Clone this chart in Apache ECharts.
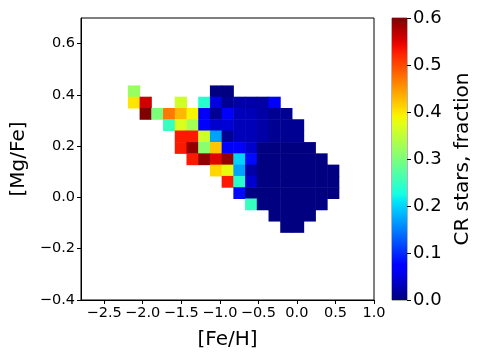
<!DOCTYPE html>
<html>
<head>
<meta charset="utf-8">
<script src="https://cdn.jsdelivr.net/npm/echarts@6/dist/echarts.min.js"></script>
<style>
  html, body { margin: 0; padding: 0; background: #fff; }
  #chart { width: 479px; height: 359px; }
</style>
</head>
<body>
<div id="chart"></div>
<script>
// bin centres of the 2D histogram
const feBins = [-2.116, -1.964, -1.812, -1.660, -1.508, -1.356, -1.204, -1.052, -0.900,
  -0.748, -0.596, -0.444, -0.292, -0.140, 0.012, 0.164, 0.316, 0.468]
const mgBins = [0.415, 0.371, 0.327, 0.283, 0.239, 0.194, 0.150, 0.106, 0.062, 0.018, -0.026, -0.070, -0.114]
const feWidth = 0.152
const mgHeight = 0.0441

// CR-star fraction, rows top to bottom, columns follow feBins
const _ = null
const fraction = [
  [0.32, _, _, _, _, _, _, 0.0, 0.0, _, _, _, _, _, _, _, _, _],
  [0.40, 0.56, _, _, 0.36, _, 0.24, 0.05, 0.01, 0.02, 0.02, 0.02, 0.07, _, _, _, _, _],
  [_, 0.60, 0.30, 0.47, 0.43, 0.39, 0.07, 0.01, 0.07, 0.03, 0.03, 0.02, 0.01, 0.01, _, _, _, _],
  [_, _, _, 0.25, 0.37, 0.33, 0.07, 0.04, 0.045, 0.03, 0.03, 0.02, 0.01, 0.01, 0.01, _, _, _],
  [_, _, _, _, 0.53, 0.53, 0.36, 0.17, 0.01, 0.03, 0.03, 0.02, 0.01, 0.01, 0.01, _, _, _],
  [_, _, _, _, 0.53, 0.59, 0.31, 0.42, 0.07, 0.07, 0.04, 0.0, 0.0, 0.0, 0.0, 0.0, _, _],
  [_, _, _, _, _, 0.53, 0.59, 0.55, 0.59, 0.20, 0.08, 0.0, 0.0, 0.0, 0.0, 0.0, 0.0, _],
  [_, _, _, _, _, _, _, 0.41, 0.38, 0.17, 0.02, 0.0, 0.0, 0.0, 0.0, 0.0, 0.0, 0.0],
  [_, _, _, _, _, _, _, _, 0.53, 0.24, 0.04, 0.0, 0.0, 0.0, 0.0, 0.0, 0.0, 0.0],
  [_, _, _, _, _, _, _, _, _, 0.08, 0.0, 0.0, 0.0, 0.0, 0.0, 0.0, 0.0, 0.0],
  [_, _, _, _, _, _, _, _, _, _, 0.25, 0.0, 0.0, 0.0, 0.0, 0.0, 0.0, _],
  [_, _, _, _, _, _, _, _, _, _, _, _, 0.0, 0.0, 0.0, 0.0, _, _],
  [_, _, _, _, _, _, _, _, _, _, _, _, _, 0.0, 0.0, _, _, _]
]

const xTicks = [-2.5, -2.0, -1.5, -1.0, -0.5, 0.0, 0.5, 1.0]
const yTicks = [-0.4, -0.2, 0.0, 0.2, 0.4, 0.6]
const cbTicks = [0.0, 0.1, 0.2, 0.3, 0.4, 0.5, 0.6]

// matplotlib jet colormap
const jetSeg = {
  r: [[0, 0], [0.35, 0], [0.66, 1], [0.89, 1], [1, 0.5]],
  g: [[0, 0], [0.125, 0], [0.375, 1], [0.64, 1], [0.91, 0], [1, 0]],
  b: [[0, 0.5], [0.11, 1], [0.34, 1], [0.65, 0], [1, 0]]
}
const seg = (pts, t) => {
  for (let i = 1; i < pts.length; i++) {
    if (t <= pts[i][0]) {
      const [t0, v0] = pts[i - 1], [t1, v1] = pts[i]
      return v0 + (v1 - v0) * (t - t0) / (t1 - t0)
    }
  }
  return pts[pts.length - 1][1]
}
const jet = t => 'rgb(' + ['r', 'g', 'b'].map(c => Math.round(seg(jetSeg[c], t) * 255)).join(',') + ')'
const jetColors = []
for (let i = 0; i <= 40; i++) jetColors.push(jet(i / 40))

const cells = []
fraction.forEach((row, j) => {
  row.forEach((v, i) => {
    if (v !== null) cells.push([feBins[i], mgBins[j], v])
  })
})

const fmt = v => v.toFixed(1).replace('-', '\u2212')
const font = 'DejaVu Sans'

const chart = echarts.init(document.getElementById('chart'))
chart.setOption({
  animation: false,
  textStyle: { fontFamily: font },
  grid: [
    { left: 81, top: 18, width: 293, height: 282, show: true, borderColor: '#000', borderWidth: 1 },
    { left: 392, top: 18, width: 15, height: 282, show: true, borderColor: '#444', borderWidth: 0.8 }
  ],
  xAxis: [
    {
      type: 'value', min: -2.8, max: 1.0,
      name: '[Fe/H]', nameLocation: 'middle', nameGap: 30,
      nameTextStyle: { fontSize: 20, color: '#000', fontFamily: font },
      axisLine: { show: true, onZero: false, lineStyle: { color: '#000', width: 1 } },
      axisTick: { show: true, length: 4, customValues: xTicks, lineStyle: { color: '#000' } },
      axisLabel: { customValues: xTicks, formatter: fmt, fontSize: 14.5, color: '#000', margin: 6, fontFamily: font },
      splitLine: { show: false }
    },
    { gridIndex: 1, type: 'value', min: 0, max: 1, show: false }
  ],
  yAxis: [
    {
      type: 'value', min: -0.4, max: 0.7,
      name: '[Mg/Fe]', nameLocation: 'middle', nameGap: 50, nameRotate: 90,
      nameTextStyle: { fontSize: 20, color: '#000', fontFamily: font },
      axisLine: { show: true, onZero: false, lineStyle: { color: '#000', width: 1 } },
      axisTick: { show: true, length: 4, customValues: yTicks, lineStyle: { color: '#000' } },
      axisLabel: { customValues: yTicks, formatter: fmt, fontSize: 14.5, color: '#000', margin: 6, fontFamily: font },
      splitLine: { show: false }
    },
    {
      gridIndex: 1, type: 'value', min: 0, max: 0.6, position: 'right',
      name: 'CR stars, fraction', nameLocation: 'middle', nameGap: 46, nameRotate: 90,
      nameTextStyle: { fontSize: 20, color: '#000', fontFamily: font },
      axisLine: { show: false, onZero: false },
      axisTick: { show: true, length: 4, customValues: cbTicks, lineStyle: { color: '#000' } },
      axisLabel: { customValues: cbTicks, formatter: fmt, fontSize: 18, color: '#000', margin: 6, fontFamily: font },
      splitLine: { show: false }
    }
  ],
  visualMap: {
    type: 'continuous', show: false, min: 0, max: 0.6, dimension: 2, seriesIndex: 0,
    inRange: { color: jetColors }
  },
  series: [
    {
      type: 'custom',
      data: cells,
      renderItem: (params, api) => {
        const x = api.value(0), y = api.value(1)
        const p0 = api.coord([x - feWidth / 2, y + mgHeight / 2])
        const p1 = api.coord([x + feWidth / 2, y - mgHeight / 2])
        return {
          type: 'rect',
          shape: { x: p0[0], y: p0[1], width: p1[0] - p0[0] + 0.5, height: p1[1] - p0[1] + 0.5 },
          style: { fill: api.visual('color') }
        }
      }
    },
    {
      type: 'custom',
      xAxisIndex: 1, yAxisIndex: 1,
      data: [[0, 0]],
      renderItem: (params, api) => {
        const p0 = api.coord([0, 0.6])
        const p1 = api.coord([1, 0])
        const stops = jetColors.map((c, i) => ({ offset: 1 - i / (jetColors.length - 1), color: c }))
        return {
          type: 'rect',
          shape: { x: p0[0], y: p0[1], width: p1[0] - p0[0], height: p1[1] - p0[1] },
          style: { fill: new echarts.graphic.LinearGradient(0, 0, 0, 1, stops.reverse()) }
        }
      }
    }
  ]
})
</script>
</body>
</html>
